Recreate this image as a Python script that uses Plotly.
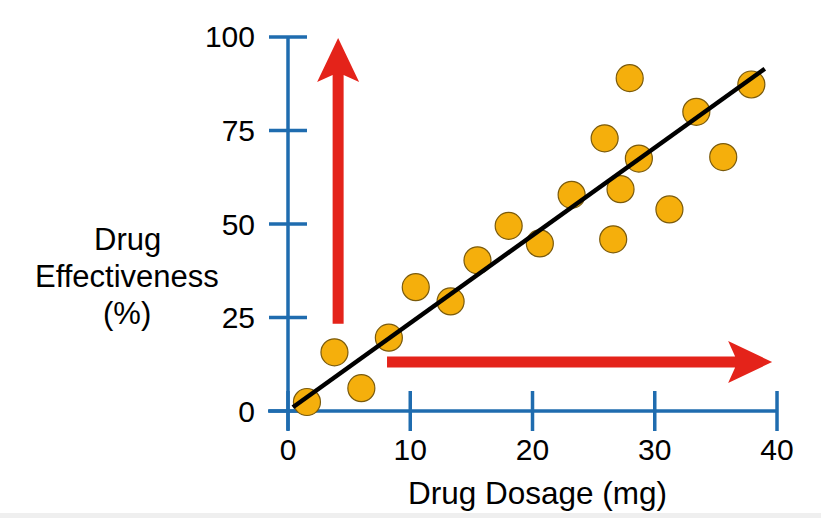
import plotly.graph_objects as go

# ---- data ----
dosage = [1.55, 3.8, 6.0, 8.25, 10.45, 13.3, 15.5, 18.05, 20.6, 23.2, 25.9, 26.6,
          27.2, 27.95, 28.7, 31.2, 33.4, 35.6, 37.9]
effectiveness = [2.4, 15.7, 6.1, 19.6, 33.1, 29.3, 40.3, 49.5, 44.8, 57.8, 72.9, 45.9,
                 59.3, 89.0, 67.5, 53.9, 80.0, 67.9, 87.3]
trend_x = [0.4, 39.0]
trend_y = [1.0, 91.5]
x_ticks = [0, 10, 20, 30, 40]
y_ticks = [0, 25, 50, 75, 100]
x_title = "Drug Dosage (mg)"
y_title_lines = ["Drug", "Effectiveness", "(%)"]

# ---- layout geometry ----
ML, MR, MT, MB = 264, 32, 30, 86
W, H = 821, 518
PW, PH = W - ML - MR, H - MT - MB
XR = [-1.963, 40.98]
YR = [-5.615, 101.87]
PXX = PW / (XR[1] - XR[0])   # px per x unit
PXY = PH / (YR[1] - YR[0])   # px per y unit

AXIS_BLUE = "#1f6caf"
RED = "#e4231a"
FONT = "Liberation Sans, Arial, Helvetica, sans-serif"

shapes = []
# axis lines
shapes.append(dict(type="line", xref="x", yref="y", x0=0, x1=0, y0=-19 / PXY, y1=100,
                   line=dict(color=AXIS_BLUE, width=3.5), layer="below"))
shapes.append(dict(type="line", xref="x", yref="y", x0=-20 / PXX, x1=40, y0=0, y1=0,
                   line=dict(color=AXIS_BLUE, width=3.5), layer="below"))
for t in y_ticks:
    shapes.append(dict(type="line", xref="x", yref="y", x0=-19 / PXX, x1=19 / PXX, y0=t, y1=t,
                       line=dict(color=AXIS_BLUE, width=3.5), layer="below"))
for t in x_ticks:
    shapes.append(dict(type="line", xref="x", yref="y", x0=t, x1=t, y0=-20 / PXY, y1=20 / PXY,
                       line=dict(color=AXIS_BLUE, width=3.5), layer="below"))


def arrow_path(start, tip, horizontal):
    hw, L, Hh, notch = 5.5, 44, 21, 7
    pts = [(0, -hw), (None, -hw), ("L", -Hh), ("T", 0), ("L", Hh), (None, hw), (0, hw)]
    out = []
    length_px = ((tip - start) * (PXX if horizontal else PXY))
    for a, b in pts:
        if a == 0:
            along = 0
        elif a is None:
            along = length_px - L + notch
        elif a == "L":
            along = length_px - L
        else:
            along = length_px
        out.append((along, b))
    return out


def to_path(points_px, origin, horizontal):
    ox, oy = origin
    segs = []
    for i, (along, across) in enumerate(points_px):
        if horizontal:
            x = ox + along / PXX
            y = oy + across / PXY
        else:
            x = ox + across / PXX
            y = oy + along / PXY
        segs.append(("M" if i == 0 else "L") + f"{x:.4f},{y:.4f}")
    return " ".join(segs) + " Z"


# arrows (annotation geometry)
V_ARROW = dict(x=4.1, y0=23.3, y1=99.7)
H_ARROW = dict(y=13.1, x0=8.1, x1=39.6)
shapes.append(dict(type="path", xref="x", yref="y",
                   path=to_path(arrow_path(V_ARROW["y0"], V_ARROW["y1"], False),
                                (V_ARROW["x"], V_ARROW["y0"]), False),
                   fillcolor=RED, line=dict(width=0), layer="below"))
shapes.append(dict(type="path", xref="x", yref="y",
                   path=to_path(arrow_path(H_ARROW["x0"], H_ARROW["x1"], True),
                                (H_ARROW["x0"], H_ARROW["y"]), True),
                   fillcolor=RED, line=dict(width=0), layer="below"))
# bottom grey strip
shapes.append(dict(type="rect", xref="paper", yref="paper", x0=-1, x1=2,
                   y0=-(513 - (MT + PH)) / PH, y1=-(530 - (MT + PH)) / PH,
                   fillcolor="#efefef", line=dict(width=0), layer="below"))

fig = go.Figure()
fig.add_trace(go.Scatter(x=dosage, y=effectiveness, mode="markers",
                         marker=dict(size=27, color="#f5af0c",
                                     line=dict(color="#7a5a0c", width=1.2)),
                         cliponaxis=False, hoverinfo="x+y"))
fig.add_trace(go.Scatter(x=trend_x, y=trend_y, mode="lines",
                         line=dict(color="black", width=4.5), cliponaxis=False))

annotations = [
    dict(text=x_title, xref="paper", yref="paper",
         x=(537 - ML) / PW, y=(MT + PH - 493) / PH, xanchor="center", yanchor="middle",
         showarrow=False, font=dict(size=31.5, family=FONT)),
]
for line_text, ypx in zip(y_title_lines, [240, 276, 313]):
    annotations.append(dict(text=line_text, xref="paper", yref="paper",
                            x=(127 - ML) / PW, y=(MT + PH - ypx) / PH,
                            xanchor="center", yanchor="middle", showarrow=False,
                            font=dict(size=31, family=FONT)))

fig.update_layout(
    width=W, height=H, margin=dict(l=ML, r=MR, t=MT, b=MB),
    paper_bgcolor="white", plot_bgcolor="white", showlegend=False,
    font=dict(family=FONT, color="black"),
    shapes=shapes,
    xaxis=dict(range=XR, showgrid=False, zeroline=False, showline=False,
               tickmode="array", tickvals=x_ticks, ticktext=[str(v) for v in x_ticks],
               ticks="", tickfont=dict(size=30, family=FONT), ticklabelstandoff=-3),
    yaxis=dict(range=YR, showgrid=False, zeroline=False, showline=False,
               tickmode="array", tickvals=y_ticks, ticktext=[str(v) for v in y_ticks],
               ticks="", tickfont=dict(size=30, family=FONT), ticklabelstandoff=8),
    annotations=annotations,
)

fig.write_html("out.html")
